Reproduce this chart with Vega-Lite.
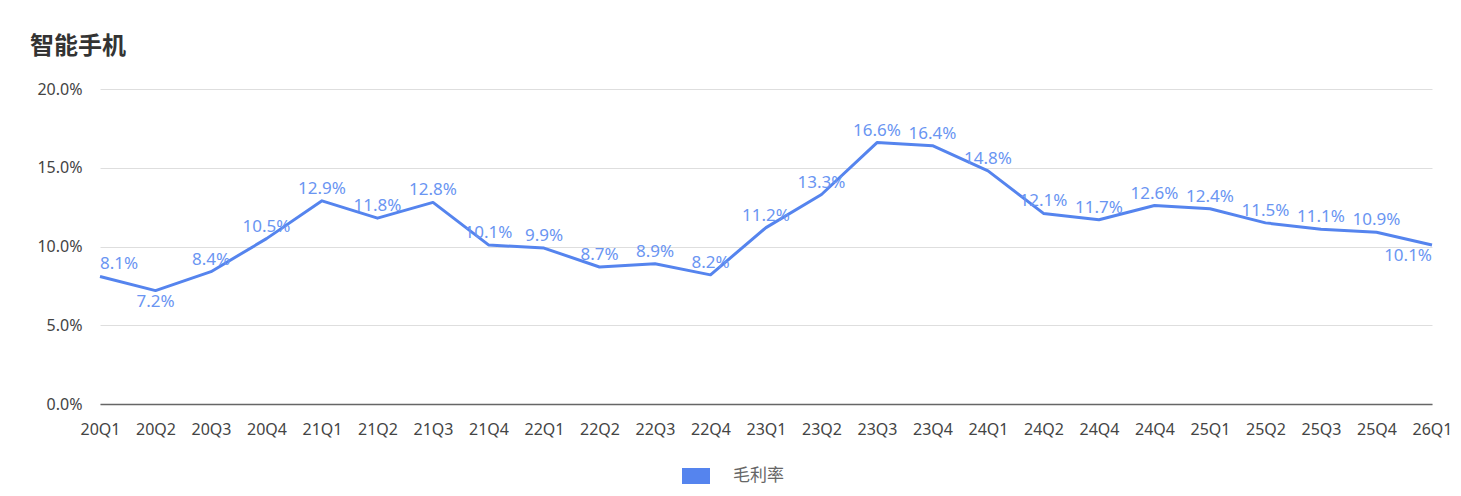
{
  "$schema": "https://vega.github.io/schema/vega-lite/v6.json",
  "autosize": {"type": "none"},
  "padding": {"left": 100, "top": 89, "right": 29, "bottom": 92},
  "width": 1332,
  "height": 315,
  "background": "#ffffff",
  "title": {
    "text": "智能手机",
    "anchor": "start",
    "frame": "group",
    "dx": -70,
    "offset": 22,
    "font": "Noto Sans CJK SC",
    "fontSize": 24,
    "fontWeight": "bold",
    "color": "#333333"
  },
  "data": {
    "values": [
      {"quarter": "20Q1", "margin": 0.081, "series": "毛利率"},
      {"quarter": "20Q2", "margin": 0.072, "series": "毛利率"},
      {"quarter": "20Q3", "margin": 0.084, "series": "毛利率"},
      {"quarter": "20Q4", "margin": 0.105, "series": "毛利率"},
      {"quarter": "21Q1", "margin": 0.129, "series": "毛利率"},
      {"quarter": "21Q2", "margin": 0.118, "series": "毛利率"},
      {"quarter": "21Q3", "margin": 0.128, "series": "毛利率"},
      {"quarter": "21Q4", "margin": 0.101, "series": "毛利率"},
      {"quarter": "22Q1", "margin": 0.099, "series": "毛利率"},
      {"quarter": "22Q2", "margin": 0.087, "series": "毛利率"},
      {"quarter": "22Q3", "margin": 0.089, "series": "毛利率"},
      {"quarter": "22Q4", "margin": 0.082, "series": "毛利率"},
      {"quarter": "23Q1", "margin": 0.112, "series": "毛利率"},
      {"quarter": "23Q2", "margin": 0.133, "series": "毛利率"},
      {"quarter": "23Q3", "margin": 0.166, "series": "毛利率"},
      {"quarter": "23Q4", "margin": 0.164, "series": "毛利率"},
      {"quarter": "24Q1", "margin": 0.148, "series": "毛利率"},
      {"quarter": "24Q2", "margin": 0.121, "series": "毛利率"},
      {"quarter": "24Q3", "margin": 0.117, "series": "毛利率"},
      {"quarter": "24Q4", "margin": 0.126, "series": "毛利率"},
      {"quarter": "25Q1", "margin": 0.124, "series": "毛利率"},
      {"quarter": "25Q2", "margin": 0.115, "series": "毛利率"},
      {"quarter": "25Q3", "margin": 0.111, "series": "毛利率"},
      {"quarter": "25Q4", "margin": 0.109, "series": "毛利率"},
      {"quarter": "26Q1", "margin": 0.101, "series": "毛利率"}
    ]
  },
  "encoding": {
    "x": {
      "field": "quarter",
      "type": "ordinal",
      "sort": null,
      "scale": {"type": "point", "padding": 0},
      "axis": {
        "title": null,
        "labelAngle": 0,
        "labelExpr": "datum.value == '24Q3' ? '24Q4' : datum.value",
        "labelFont": "Noto Sans",
        "labelFontSize": 16,
        "labelColor": "#444444",
        "labelPadding": 17,
        "labelOverlap": false,
        "ticks": false,
        "domainColor": "#666666",
        "domainWidth": 1.5,
        "grid": false
      }
    },
    "y": {
      "field": "margin",
      "type": "quantitative",
      "scale": {"domain": [0, 0.2], "nice": false},
      "axis": {
        "title": null,
        "format": ".1%",
        "values": [0, 0.05, 0.1, 0.15, 0.2],
        "labelFont": "Noto Sans",
        "labelFontSize": 16,
        "labelColor": "#444444",
        "labelPadding": 18,
        "labelOverlap": false,
        "ticks": false,
        "domain": false,
        "gridColor": "#dedede",
        "gridWidth": 1
      }
    }
  },
  "layer": [
    {
      "mark": {"type": "line", "strokeWidth": 3, "strokeJoin": "round"},
      "encoding": {
        "color": {
          "field": "series",
          "type": "nominal",
          "scale": {"range": ["#5584EE"]},
          "legend": {
            "title": null,
            "orient": "none",
            "legendX": 582,
            "legendY": 373,
            "symbolType": "M-1,-0.54H1V0.54H-1Z",
            "symbolSize": 676,
            "labelFont": "Noto Sans CJK SC",
            "labelFontSize": 17,
            "labelColor": "#666666",
            "labelOffset": 23,
            "encode": {
              "symbols": {
                "update": {
                  "fill": {"value": "#5584EE"},
                  "stroke": {"value": "#dde2ea"},
                  "strokeWidth": {"value": 2}
                }
              }
            }
          }
        }
      }
    },
    {
      "transform": [{"filter": "indexof(['20Q1', '20Q2', '26Q1'], datum.quarter) < 0"}],
      "mark": {"type": "text", "baseline": "bottom", "dy": -3, "font": "Noto Sans", "fontSize": 17, "color": "#6A95F2"},
      "encoding": {"text": {"field": "margin", "format": ".1%"}}
    },
    {
      "transform": [{"filter": "datum.quarter == '20Q1'"}],
      "mark": {"type": "text", "baseline": "bottom", "align": "left", "dy": -3, "font": "Noto Sans", "fontSize": 17, "color": "#6A95F2"},
      "encoding": {"text": {"field": "margin", "format": ".1%"}}
    },
    {
      "transform": [{"filter": "datum.quarter == '20Q2'"}],
      "mark": {"type": "text", "baseline": "top", "dy": 3, "font": "Noto Sans", "fontSize": 17, "color": "#6A95F2"},
      "encoding": {"text": {"field": "margin", "format": ".1%"}}
    },
    {
      "transform": [{"filter": "datum.quarter == '26Q1'"}],
      "mark": {"type": "text", "baseline": "top", "align": "right", "dy": 3, "font": "Noto Sans", "fontSize": 17, "color": "#6A95F2"},
      "encoding": {"text": {"field": "margin", "format": ".1%"}}
    }
  ],
  "config": {"view": {"stroke": null}}
}
